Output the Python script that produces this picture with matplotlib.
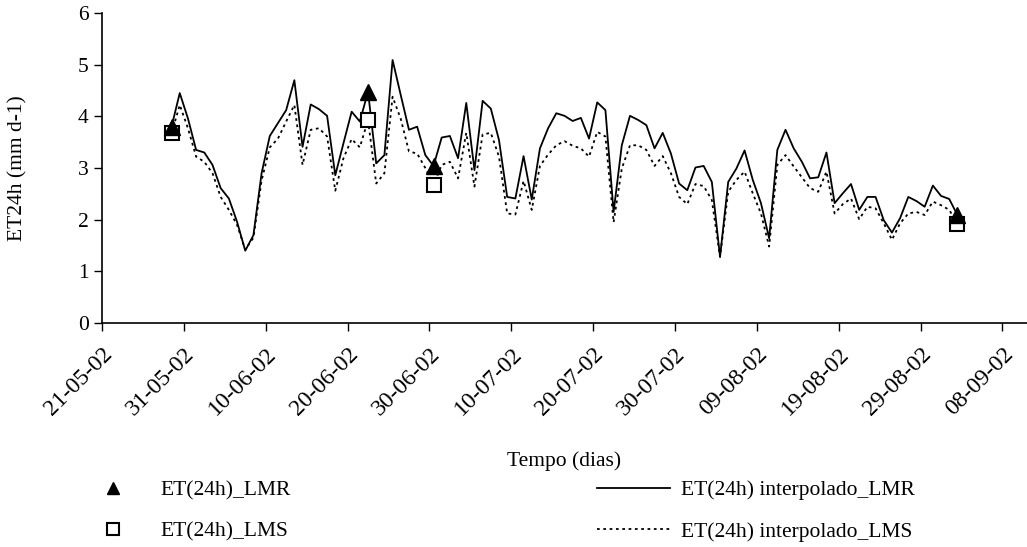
import matplotlib
matplotlib.use("Agg")
import matplotlib.pyplot as plt
import matplotlib.dates as mdates
import pandas as pd

# daily values 29-05-02 .. 02-09-02 (points sit mid-day, like the Excel date axis)
dias = pd.date_range("2002-05-29 12:00", periods=97, freq="D")

et_lmr_interp = [
    3.80, 4.45, 3.96, 3.35, 3.30, 3.06, 2.61, 2.41, 1.96, 1.40,
    1.70, 2.90, 3.62, 3.87, 4.12, 4.70, 3.41, 4.23, 4.14, 4.01,
    2.86, 3.48, 4.09, 3.90, 4.48, 3.09, 3.25, 5.09, 4.41, 3.74,
    3.80, 3.25, 3.04, 3.59, 3.62, 3.19, 4.26, 2.96, 4.30, 4.15,
    3.54, 2.44, 2.41, 3.23, 2.39, 3.38, 3.77, 4.06, 4.01, 3.91,
    3.97, 3.57, 4.27, 4.12, 2.15, 3.44, 4.01, 3.93, 3.83, 3.38,
    3.68, 3.28, 2.70, 2.57, 3.01, 3.04, 2.73, 1.28, 2.73, 2.99,
    3.34, 2.77, 2.32, 1.64, 3.35, 3.74, 3.38, 3.12, 2.80, 2.82,
    3.30, 2.32, 2.51, 2.69, 2.19, 2.44, 2.44, 1.99, 1.75, 2.03,
    2.44, 2.36, 2.25, 2.66, 2.46, 2.40, 2.09,
]
et_lms_interp = [
    3.67, 4.22, 3.77, 3.22, 3.12, 2.90, 2.44, 2.19, 1.90, 1.42,
    1.65, 2.76, 3.40, 3.57, 3.90, 4.22, 3.06, 3.74, 3.77, 3.61,
    2.56, 3.19, 3.56, 3.40, 3.93, 2.70, 2.90, 4.38, 3.95, 3.32,
    3.28, 3.00, 2.67, 3.06, 3.12, 2.80, 3.68, 2.64, 3.65, 3.68,
    3.22, 2.12, 2.10, 2.75, 2.19, 3.04, 3.26, 3.44, 3.52, 3.43,
    3.38, 3.22, 3.70, 3.61, 1.95, 2.99, 3.44, 3.44, 3.35, 3.04,
    3.23, 2.90, 2.44, 2.30, 2.69, 2.65, 2.38, 1.28, 2.54, 2.77,
    2.93, 2.51, 2.12, 1.48, 3.06, 3.25, 3.03, 2.82, 2.61, 2.54,
    2.93, 2.12, 2.30, 2.41, 2.01, 2.25, 2.22, 1.93, 1.61, 1.93,
    2.12, 2.15, 2.09, 2.35, 2.28, 2.19, 1.92,
]

# satellite overpass days
sat_dias = pd.to_datetime(["2002-05-29 12:00", "2002-06-22 12:00",
                           "2002-06-30 12:00", "2002-09-02 12:00"])
et_lmr = [3.80, 4.48, 3.04, 2.09]
et_lms = [3.67, 3.93, 2.67, 1.92]

plt.rcParams["font.family"] = ["Liberation Serif", "DejaVu Serif"]
plt.rcParams["font.size"] = 15.5

fig = plt.figure(figsize=(10.27, 5.47), dpi=100)
ax = fig.add_axes([0.0993, 0.4095, 0.9007, 0.5667])

h_tri, = ax.plot(sat_dias, et_lmr, linestyle="none", marker="^", markersize=11.5,
                 color="black", label="ET(24h)_LMR", zorder=4)
h_sq, = ax.plot(sat_dias, et_lms, linestyle="none", marker="s", markersize=10,
                markerfacecolor="white", markeredgecolor="black", markeredgewidth=1.5,
                label="ET(24h)_LMS", zorder=3)
h_lmr, = ax.plot(dias, et_lmr_interp, color="black", lw=1.3,
                 label="ET(24h) interpolado_LMR")
h_lms, = ax.plot(dias, et_lms_interp, color="black", lw=1.3, linestyle=(0, (1.5, 2)),
                 label="ET(24h) interpolado_LMS")

inicio = pd.Timestamp("2002-05-21")
ax.set_xlim(inicio, inicio + pd.Timedelta(days=113))
ax.set_ylim(0, 6)
ax.set_xticks(pd.date_range(inicio, periods=12, freq="10D"))
ax.xaxis.set_major_formatter(mdates.DateFormatter("%d-%m-%y"))
ax.set_yticks(range(0, 7))
plt.setp(ax.get_xticklabels(), rotation=45, ha="right", rotation_mode="anchor",
         fontsize=17)
ax.tick_params(axis="both", direction="out", length=6, width=1, colors="black")
ax.tick_params(axis="x", pad=9)

for s in ["top", "right"]:
    ax.spines[s].set_visible(False)
for s in ["left", "bottom"]:
    ax.spines[s].set_linewidth(1.2)

ax.set_ylabel("ET24h (mm d-1)")
ax.yaxis.set_label_coords(-0.08, 0.5)
ax.set_xlabel("Tempo (dias)")
ax.xaxis.set_label_coords(0.5, -0.415)

leg_kw = dict(frameon=False, loc="upper left", borderaxespad=0, borderpad=0,
              handlelength=3.4, handletextpad=0.5, labelspacing=1.0)
fig.legend(handles=[h_tri, h_sq], bbox_to_anchor=(76.5 / 1027, 0.1225),
           markerscale=0.8, **leg_kw)
fig.legend(handles=[h_lmr, h_lms], bbox_to_anchor=(597 / 1027, 0.1225), **leg_kw)

fig.savefig("out.png", dpi=100)
